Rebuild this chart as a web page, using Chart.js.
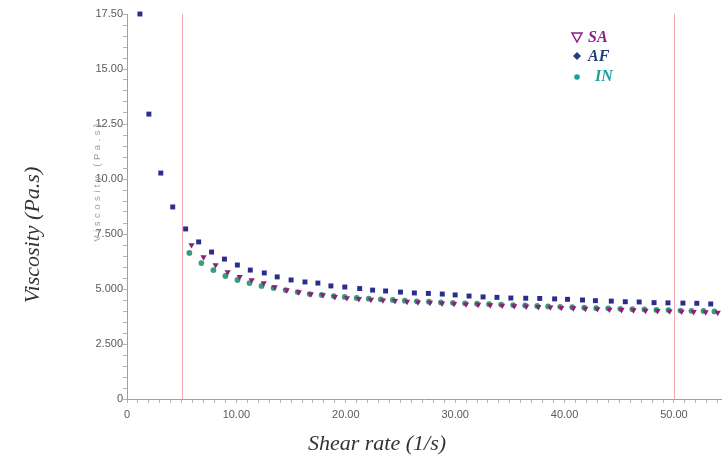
<!DOCTYPE html>
<html>
<head>
<meta charset="utf-8">
<script src="https://cdn.jsdelivr.net/npm/chart.js@4.4.1/dist/chart.umd.min.js"></script>
<style>
  html, body { margin: 0; padding: 0; background: #fff; }
  #wrap { width: 725px; height: 459px; }
</style>
</head>
<body>
<div id="wrap"><canvas id="chart"></canvas></div>
<script>
// ---- data ----
const afShear = [1.18, 2.0, 3.09, 4.18, 5.36, 6.55, 7.73, 8.91, 10.09, 11.27, 12.55, 13.73, 15.0, 16.27, 17.45,
  18.64, 19.91, 21.27, 22.45, 23.64, 25.0, 26.27, 27.55, 28.82, 30.0, 31.27, 32.55, 33.82, 35.09, 36.45,
  37.73, 39.09, 40.27, 41.64, 42.82, 44.27, 45.55, 46.82, 48.18, 49.45, 50.82, 52.09, 53.36];
const afVisc = [17.5, 12.95, 10.27, 8.73, 7.73, 7.14, 6.68, 6.36, 6.09, 5.86, 5.73, 5.55, 5.41, 5.32, 5.27,
  5.14, 5.09, 5.02, 4.95, 4.91, 4.86, 4.82, 4.80, 4.77, 4.73, 4.68, 4.64, 4.62, 4.59, 4.58,
  4.57, 4.55, 4.53, 4.50, 4.47, 4.45, 4.42, 4.41, 4.38, 4.37, 4.36, 4.35, 4.32];

const saShear = [5.9, 7.0, 8.1, 9.2, 10.3, 11.4, 12.5, 13.5, 14.6, 15.7, 16.8, 17.9, 19.0, 20.1, 21.2,
  22.3, 23.4, 24.5, 25.6, 26.6, 27.7, 28.8, 29.9, 31.0, 32.1, 33.2, 34.3, 35.4, 36.5, 37.6,
  38.7, 39.7, 40.8, 41.9, 43.0, 44.1, 45.2, 46.3, 47.4, 48.5, 49.6, 50.7, 51.8, 52.9, 54.0];
const saVisc = [7.00, 6.45, 6.09, 5.77, 5.55, 5.41, 5.27, 5.09, 4.95, 4.86, 4.77, 4.73, 4.64, 4.59, 4.55,
  4.52, 4.49, 4.46, 4.43, 4.40, 4.38, 4.35, 4.33, 4.31, 4.29, 4.27, 4.25, 4.23, 4.21, 4.19,
  4.17, 4.15, 4.13, 4.11, 4.09, 4.07, 4.05, 4.04, 4.02, 4.01, 3.99, 3.98, 3.96, 3.95, 3.93];

const inShear = [5.7, 6.8, 7.9, 9.0, 10.1, 11.2, 12.3, 13.4, 14.5, 15.6, 16.7, 17.8, 18.9, 19.9, 21.0,
  22.1, 23.2, 24.3, 25.4, 26.5, 27.6, 28.7, 29.8, 30.9, 32.0, 33.1, 34.2, 35.3, 36.4, 37.5,
  38.5, 39.6, 40.7, 41.8, 42.9, 44.0, 45.1, 46.2, 47.3, 48.4, 49.5, 50.6, 51.6, 52.7, 53.7];
const inVisc = [6.64, 6.18, 5.86, 5.59, 5.41, 5.27, 5.14, 5.05, 4.95, 4.86, 4.77, 4.73, 4.68, 4.64, 4.59,
  4.56, 4.53, 4.50, 4.47, 4.44, 4.42, 4.39, 4.37, 4.35, 4.33, 4.31, 4.29, 4.27, 4.25, 4.23,
  4.21, 4.19, 4.17, 4.15, 4.13, 4.12, 4.10, 4.08, 4.07, 4.05, 4.04, 4.02, 4.01, 4.00, 3.98];

const xTickLabels = { 0: "0", 10: "10.00", 20: "20.00", 30: "30.00", 40: "40.00", 50: "50.00" };
const yTickLabels = { 0: "0", 2.5: "2.500", 5: "5.000", 7.5: "7.500", 10: "10.00", 12.5: "12.50", 15: "15.00", 17.5: "17.50" };
const markerLines = [5, 50];

const toPts = (xs, ys) => xs.map((x, i) => ({ x, y: ys[i] }));

// ---- extra drawing: marker lines, titles, legend ----
const decor = {
  id: "decor",
  beforeDatasetsDraw(chart) {
    const { ctx, chartArea, scales } = chart;
    ctx.save();
    ctx.strokeStyle = "#f2a9b4";
    ctx.lineWidth = 1;
    markerLines.forEach((v) => {
      const px = Math.round(scales.x.getPixelForValue(v)) + 0.5;
      ctx.beginPath();
      ctx.moveTo(px, chartArea.top);
      ctx.lineTo(px, chartArea.bottom);
      ctx.stroke();
    });
    ctx.restore();
  },
  afterDraw(chart) {
    const { ctx } = chart;
    ctx.save();
    // axis titles
    ctx.fillStyle = "#333";
    ctx.font = "italic 22px 'Liberation Serif', 'DejaVu Serif', serif";
    ctx.textAlign = "center";
    ctx.textBaseline = "middle";
    ctx.fillText("Shear rate (1/s)", 377, 444);
    ctx.save();
    ctx.translate(33, 235);
    ctx.rotate(-Math.PI / 2);
    ctx.fillText("Viscosity (Pa.s)", 0, 0);
    ctx.restore();

    // faint ghost label next to the axis
    ctx.save();
    ctx.translate(97, 181);
    ctx.rotate(-Math.PI / 2);
    ctx.fillStyle = "#9a9a9a";
    ctx.font = "9.5px 'Liberation Sans', Arial, sans-serif";
    ctx.letterSpacing = "3.5px";
    ctx.fillText("Viscosity (Pa.s)", 0, 0);
    ctx.restore();

    // legend
    const items = [
      { label: "SA", color: "#8a1f8a", y: 37, style: "tri" },
      { label: "AF", color: "#233f78", y: 56, style: "dia" },
      { label: "IN", color: "#1c9e9e", y: 76, style: "dot" },
    ];
    ctx.font = "italic bold 16px 'Liberation Serif', 'DejaVu Serif', serif";
    ctx.textAlign = "left";
    items.forEach((it) => {
      ctx.fillStyle = it.color;
      ctx.strokeStyle = it.color;
      const sx = 577, sy = it.y;
      if (it.style === "tri") {
        ctx.lineWidth = 1.5;
        ctx.beginPath();
        ctx.moveTo(sx - 5, sy - 4);
        ctx.lineTo(sx + 5, sy - 4);
        ctx.lineTo(sx, sy + 5);
        ctx.closePath();
        ctx.stroke();
      } else if (it.style === "dia") {
        ctx.beginPath();
        ctx.moveTo(sx, sy - 4);
        ctx.lineTo(sx + 4, sy);
        ctx.lineTo(sx, sy + 4);
        ctx.lineTo(sx - 4, sy);
        ctx.closePath();
        ctx.fill();
      } else {
        ctx.beginPath();
        ctx.arc(sx, sy + 1, 2.8, 0, Math.PI * 2);
        ctx.fill();
      }
      ctx.fillText(it.label, it.style === "dot" ? 595 : 588, sy + 1);
    });
    ctx.restore();
  },
};

// ---- chart ----
const ctx = document.getElementById("chart");
new Chart(ctx, {
  type: "scatter",
  data: {
    datasets: [
      {
        label: "AF",
        data: toPts(afShear, afVisc),
        pointStyle: "rect",
        pointRadius: 3.5,
        backgroundColor: "#2b2d8e",
        borderWidth: 0,
        clip: false,
      },
      {
        label: "SA",
        data: toPts(saShear, saVisc),
        pointStyle: "triangle",
        rotation: 180,
        pointRadius: 3.6,
        backgroundColor: "#8b1f7d",
        borderWidth: 0,
        clip: false,
      },
      {
        label: "IN",
        data: toPts(inShear, inVisc),
        pointStyle: "circle",
        pointRadius: 2.9,
        backgroundColor: "#3a9c7a",
        borderWidth: 0,
        clip: false,
      },
    ],
  },
  options: {
    responsive: true,
    maintainAspectRatio: false,
    animation: false,
    layout: { padding: { top: 14, right: 0, left: 0, bottom: 0 } },
    plugins: { legend: { display: false }, tooltip: { enabled: false } },
    scales: {
      x: {
        type: "linear",
        min: 0,
        max: 54.3,
        afterBuildTicks: (s) => {
          const t = [];
          for (let v = 0; v <= 54; v++) t.push({ value: v });
          s.ticks = t;
        },
        afterFit: (s) => { s.height = 60; },
        grid: { display: true, drawOnChartArea: false, tickLength: 4, color: "#b5b5b5" },
        border: { display: true, color: "#a0a0a0" },
        ticks: {
          autoSkip: false,
          maxRotation: 0,
          padding: 5,
          color: "#5a5a5a",
          font: { family: "'Liberation Sans', Arial, sans-serif", size: 11 },
          callback: (v) => xTickLabels[v] ?? "",
        },
      },
      y: {
        min: 0,
        max: 17.5,
        afterBuildTicks: (s) => {
          const t = [];
          for (let v = 0; v <= 35; v++) t.push({ value: v * 0.5 });
          s.ticks = t;
        },
        afterFit: (s) => { s.width = 127; },
        grid: { display: true, drawOnChartArea: false, tickLength: 4, color: "#b5b5b5" },
        border: { display: true, color: "#a0a0a0" },
        ticks: {
          autoSkip: false,
          padding: 0,
          color: "#5a5a5a",
          font: { family: "'Liberation Sans', Arial, sans-serif", size: 11 },
          callback: (v) => yTickLabels[v] ?? "",
        },
      },
    },
  },
  plugins: [decor],
});
</script>
</body>
</html>
